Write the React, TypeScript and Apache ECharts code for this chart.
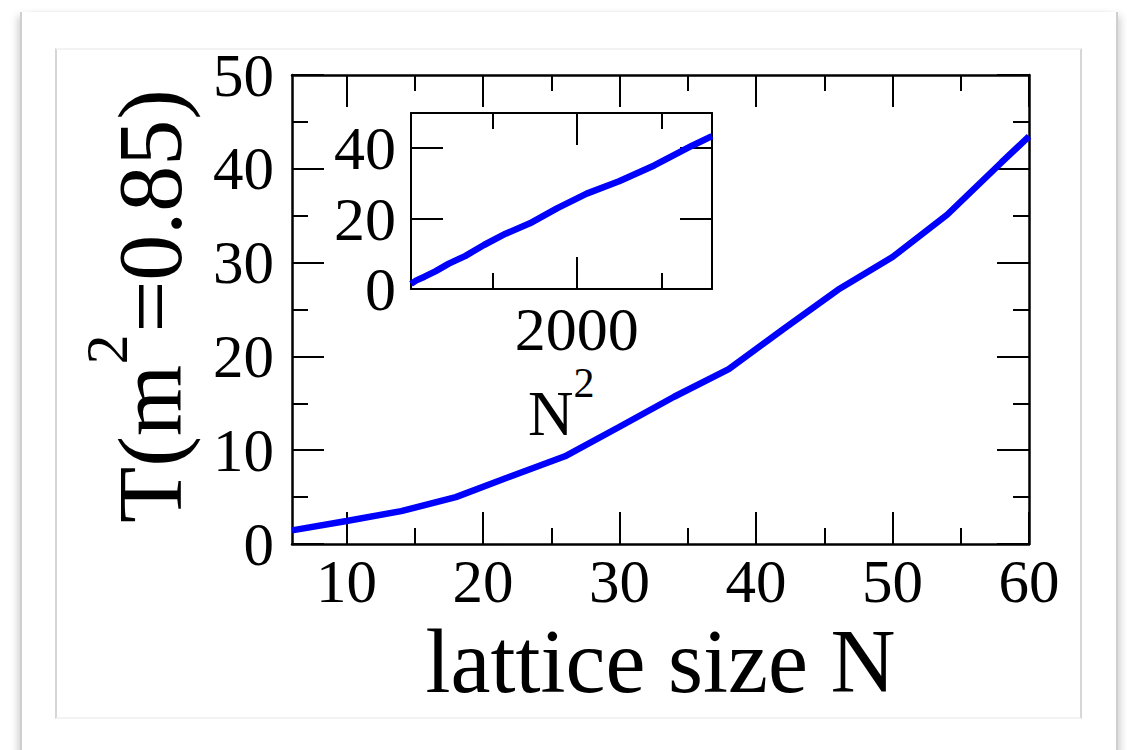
import React, { useEffect, useRef } from "react";
import * as echarts from "echarts";

// lattice size N and T(m^2=0.85)
const latticeN = [6, 10, 14, 18, 22, 26, 30, 34, 38, 42, 46, 50, 54, 58, 60];
const tValues = [1.45, 2.45, 3.5, 5.0, 7.2, 9.35, 12.5, 15.7, 18.65, 22.9, 27.1, 30.6, 35.1, 40.7, 43.45];

const mainMajorX = [10, 20, 30, 40, 50, 60];
const mainMinorX = [15, 25, 35, 45, 55];
const insetMajorX = [2000];
const insetMinorX = [1000, 3000];
const insetYTicks = [0, 20, 40];

const FONT = '"Liberation Serif", "Times New Roman", serif';
const CENTRAL = 0.3375;

function measure(text: string, size: number): number {
  const ctx = document.createElement("canvas").getContext("2d");
  if (!ctx) return text.length * size * 0.5;
  ctx.font = `${size}px "Liberation Serif"`;
  return ctx.measureText(text).width;
}

function txt(text: string, x: number, y: number, size: number) {
  return {
    type: "text",
    x,
    y,
    style: {
      text,
      fontSize: size,
      fontFamily: FONT,
      fill: "#000",
      align: "left",
      verticalAlign: "middle",
      textAlign: "left",
      textVerticalAlign: "middle",
    },
  };
}

export default function App() {
  const ref = useRef<HTMLDivElement>(null);

  useEffect(() => {
    if (!ref.current) return;
    const chart = echarts.init(ref.current, null, { renderer: "svg" });

    const line = (w: number) => ({ show: true, lineStyle: { color: "#000", width: w } });
    const noLine = { show: false };
    const tick = (len: number, values: number[] | null) => {
      const t: any = { show: true, inside: true, length: len, lineStyle: { color: "#000", width: 2 } };
      if (values) t.customValues = values;
      return t;
    };
    const noLabel = { show: false };
    const label = (size: number, margin: number, values: number[] | null) => {
      const l: any = {
        show: true,
        fontSize: size,
        fontFamily: FONT,
        color: "#000",
        margin,
        formatter: (v: number) => String(v),
      };
      if (values) l.customValues = values;
      return l;
    };

    const xBase = (grid: number, min: number, max: number, position: string) => ({
      type: "value",
      gridIndex: grid,
      min,
      max,
      position,
      splitLine: { show: false },
    });

    // y title pieces
    const yMain = 92;
    const ySup = 60;
    const w1 = measure("T(m", yMain);
    const w2 = measure("2", ySup);
    const nMain = 63;
    const nSup = 42;
    const wN = measure("N", nMain);

    const option: any = {
      animation: false,
      backgroundColor: "transparent",
      grid: [
        { left: 292, top: 75, width: 737, height: 469, containLabel: false },
        { left: 411, top: 113, width: 301, height: 176, containLabel: false },
      ],
      xAxis: [
        {
          ...xBase(0, 6, 60, "bottom"),
          axisLine: line(2.5),
          axisTick: tick(32, mainMajorX),
          axisLabel: label(61, 7, mainMajorX),
          name: "lattice size N",
          nameLocation: "middle",
          nameGap: 68,
          nameTextStyle: { fontSize: 90, fontFamily: FONT, color: "#000" },
        },
        { ...xBase(0, 6, 60, "bottom"), axisLine: noLine, axisTick: tick(16, mainMinorX), axisLabel: noLabel },
        { ...xBase(0, 6, 60, "top"), axisLine: line(2.5), axisTick: tick(32, mainMajorX), axisLabel: noLabel },
        { ...xBase(0, 6, 60, "top"), axisLine: noLine, axisTick: tick(16, mainMinorX), axisLabel: noLabel },
        {
          ...xBase(1, 36, 3600, "bottom"),
          axisLine: line(2),
          axisTick: tick(32, insetMajorX),
          axisLabel: label(62, 9, insetMajorX),
        },
        { ...xBase(1, 36, 3600, "bottom"), axisLine: noLine, axisTick: tick(16, insetMinorX), axisLabel: noLabel },
        { ...xBase(1, 36, 3600, "top"), axisLine: line(2), axisTick: tick(32, insetMajorX), axisLabel: noLabel },
        { ...xBase(1, 36, 3600, "top"), axisLine: noLine, axisTick: tick(16, insetMinorX), axisLabel: noLabel },
      ],
      yAxis: [
        {
          type: "value",
          gridIndex: 0,
          min: 0,
          max: 50,
          interval: 10,
          position: "left",
          splitLine: { show: false },
          axisLine: line(2.5),
          axisTick: tick(32, null),
          minorTick: { show: true, splitNumber: 2, length: 16, lineStyle: { color: "#000", width: 2 } },
          axisLabel: label(61, 18, null),
        },
        {
          type: "value",
          gridIndex: 0,
          min: 0,
          max: 50,
          interval: 10,
          position: "right",
          splitLine: { show: false },
          axisLine: line(2.5),
          axisTick: tick(32, null),
          minorTick: { show: true, splitNumber: 2, length: 16, lineStyle: { color: "#000", width: 2 } },
          axisLabel: noLabel,
        },
        {
          type: "value",
          gridIndex: 1,
          min: 0,
          max: 50,
          position: "left",
          splitLine: { show: false },
          axisLine: line(2),
          axisTick: tick(32, insetYTicks),
          axisLabel: label(62, 15, insetYTicks),
        },
        {
          type: "value",
          gridIndex: 1,
          min: 0,
          max: 50,
          position: "right",
          splitLine: { show: false },
          axisLine: line(2),
          axisTick: tick(32, insetYTicks),
          axisLabel: noLabel,
        },
      ],
      series: [
        {
          type: "line",
          xAxisIndex: 0,
          yAxisIndex: 0,
          data: latticeN.map((n, i) => [n, tValues[i]]),
          symbol: "none",
          lineStyle: { color: "#0000ff", width: 6.5 },
        },
        {
          type: "line",
          xAxisIndex: 4,
          yAxisIndex: 2,
          data: latticeN.map((n, i) => [n * n, tValues[i]]),
          symbol: "none",
          lineStyle: { color: "#0000ff", width: 6.5 },
        },
      ],
      graphic: [
        {
          type: "group",
          x: 181,
          y: 523,
          rotation: Math.PI / 2,
          children: [
            txt("T(m", 0, -CENTRAL * yMain, yMain),
            txt("2", w1, -54 - CENTRAL * ySup, ySup),
            txt("=0.85)", w1 + w2 + 2, -CENTRAL * yMain, yMain),
          ],
        },
        txt("N", 528, 435 - CENTRAL * nMain, nMain),
        txt("2", 528 + wN, 397 - CENTRAL * nSup, nSup),
      ],
    };

    chart.setOption(option);
    return () => chart.dispose();
  }, []);

  return (
    <div style={{ position: "fixed", left: 0, top: 0, width: 1127, height: 750, background: "#fff", overflow: "hidden" }}>
      <div
        style={{
          position: "absolute",
          left: 20,
          top: 12,
          width: 1094,
          height: 780,
          borderLeft: "2px solid #cfcfcf",
          borderRight: "2px solid #cfcfcf",
          boxShadow: "-6px 0 8px -4px rgba(0,0,0,0.2), 6px 0 8px -4px rgba(0,0,0,0.2)",
          background: "#fff",
        }}
      />
      <div
        style={{
          position: "absolute",
          left: 55,
          top: 48,
          width: 1023,
          height: 667,
          borderLeft: "2px solid #d6d6d6",
          borderRight: "2px solid #d6d6d6",
          borderTop: "2px solid #f3f3f3",
          borderBottom: "2px solid #f3f3f3",
          background: "#fff",
        }}
      />
      <div ref={ref} style={{ position: "absolute", left: 0, top: 0, width: 1127, height: 750 }} />
    </div>
  );
}
